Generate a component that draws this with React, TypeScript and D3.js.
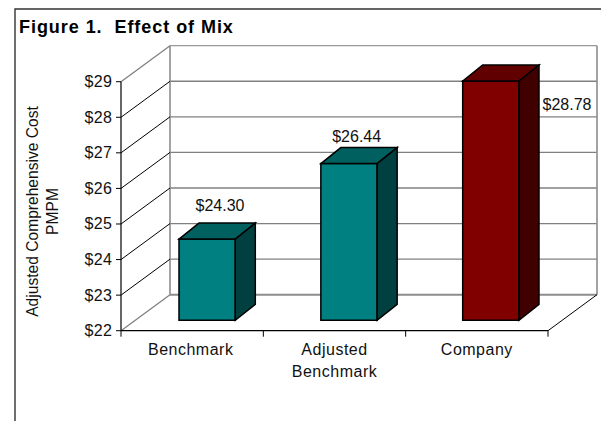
import React from "react";
import * as d3 from "d3";

const categories: string[][] = [["Benchmark"], ["Adjusted", "Benchmark"], ["Company"]];
const costs = [24.3, 26.44, 28.78];
const costLabels = ["$24.30", "$26.44", "$28.78"];
const faceColors = ["#008080", "#008080", "#800000"];
const topColors = ["#006060", "#006060", "#600000"];
const sideColors = ["#004040", "#004040", "#400000"];
const tickValues = [22, 23, 24, 25, 26, 27, 28, 29];

const FONT = "'Liberation Sans', Arial, sans-serif";

// Front edge of the plot box and the depth offset to its back wall.
const frontY = d3.scaleLinear().domain([22, 29]).range([330.7, 81.7]);
const frontX = d3.scaleBand<number>().domain([0, 1, 2]).range([121, 548]);
const depth = { x: 49, y: -36 };

// Columns stand a little way into the box, on their own plane.
const barY = d3.scaleLinear().domain([22, 29]).range([320.3, 73.2]);
const barLeft = d3.scaleLinear().domain([0, 2]).range([179, 462.7]);
const barWidth = 56.3;
const barDepth = { x: 20, y: -16 };

const poly = (pts: [number, number][]) => pts.map((p) => p.join(",")).join(" ");

export default function App() {
  const bottom = frontY(22);
  const backRight = 548 + depth.x;
  return (
    <svg
      width={601}
      height={421}
      style={{ position: "absolute", left: 0, top: 0, background: "#fff" }}
      fontFamily={FONT}
    >
      {/* outer frame: only the top and left edges are visible */}
      <path d="M601,9H15V421" fill="none" stroke="#333" strokeWidth={1.4} />
      <text x={19} y={32.5} fontSize={18} fontWeight="bold" fill="#000" xmlSpace="preserve" letterSpacing={0.95}>
        Figure 1.  Effect of Mix
      </text>

      {/* back wall gridlines */}
      {tickValues.map((t) => (
        <line
          key={t}
          x1={121 + depth.x}
          x2={backRight}
          y1={frontY(t) + depth.y}
          y2={frontY(t) + depth.y}
          stroke={t === 22 ? "#8c8c8c" : t === 29 ? "#999" : "#808080"}
          strokeWidth={t === 22 ? 2 : 1.3}
        />
      ))}
      <line x1={170} x2={170} y1={frontY(29) + depth.y} y2={bottom + depth.y} stroke="#8c8c8c" strokeWidth={1.6} />
      <line x1={backRight} x2={backRight} y1={frontY(29) + depth.y} y2={bottom + depth.y} stroke="#8c8c8c" strokeWidth={1.6} />

      {/* side wall gridlines running from the value axis to the back wall */}
      {tickValues.map((t) => (
        <line
          key={t}
          x1={121}
          y1={frontY(t)}
          x2={121 + depth.x}
          y2={frontY(t) + depth.y}
          stroke={t === 22 || t === 29 ? "#808080" : "#000"}
          strokeWidth={t === 22 || t === 29 ? 1.3 : 1}
        />
      ))}
      <line x1={548} y1={bottom} x2={backRight} y2={bottom + depth.y} stroke="#000" strokeWidth={1} />

      {/* value axis */}
      <line x1={121} x2={121} y1={frontY(29)} y2={bottom} stroke="#000" strokeWidth={1.2} />
      {tickValues.map((t) => (
        <g key={t}>
          <line x1={116} x2={121} y1={frontY(t)} y2={frontY(t)} stroke="#000" />
          <text x={112.4} y={frontY(t) + 5.5} textAnchor="end" fontSize={16} fill="#111" letterSpacing={0.4}>
            {`$${t}`}
          </text>
        </g>
      ))}

      {/* category axis */}
      <line x1={121} x2={548} y1={bottom} y2={bottom} stroke="#000" strokeWidth={1.2} />
      {[0, 1, 2, 3].map((i) => {
        const x = 121 + i * frontX.step();
        return <line key={i} x1={x} x2={x} y1={bottom} y2={bottom + 6} stroke="#000" />;
      })}
      {categories.map((lines, i) =>
        lines.map((line, j) => (
          <text
            key={line}
            x={(frontX(i) as number) + frontX.bandwidth() / 2 - (i === 0 ? 1.5 : 0)}
            y={355 + j * 21.7}
            textAnchor="middle"
            fontSize={16}
            fill="#111"
            letterSpacing={0.5}
          >
            {line}
          </text>
        ))
      )}

      {/* columns */}
      {costs.map((v, i) => {
        const l = barLeft(i);
        const r = l + barWidth;
        const t = barY(v);
        const b = barY(22);
        const dx = barDepth.x;
        const dy = barDepth.y;
        return (
          <g key={i} stroke="#000" strokeWidth={1.5} strokeLinejoin="miter">
            <polygon fill={faceColors[i]} points={poly([[l, t], [r, t], [r, b], [l, b]])} />
            <polygon fill={topColors[i]} points={poly([[l, t], [l + dx, t + dy], [r + dx, t + dy], [r, t]])} />
            <polygon fill={sideColors[i]} points={poly([[r, t], [r + dx, t + dy], [r + dx, b + dy], [r, b]])} />
          </g>
        );
      })}

      {/* value labels */}
      <text x={220} y={211} textAnchor="middle" fontSize={16} fill="#111">{costLabels[0]}</text>
      <text x={356.7} y={142} textAnchor="middle" fontSize={16} fill="#111">{costLabels[1]}</text>
      <text x={567} y={109.5} textAnchor="middle" fontSize={16} fill="#111">{costLabels[2]}</text>

      {/* value axis title */}
      <g transform="translate(37.5,211.5) rotate(-90)">
        <text textAnchor="middle" fontSize={15.6} fill="#111">Adjusted Comprehensive Cost</text>
      </g>
      <g transform="translate(58,211.5) rotate(-90)">
        <text textAnchor="middle" fontSize={15.6} fill="#111">PMPM</text>
      </g>
    </svg>
  );
}
